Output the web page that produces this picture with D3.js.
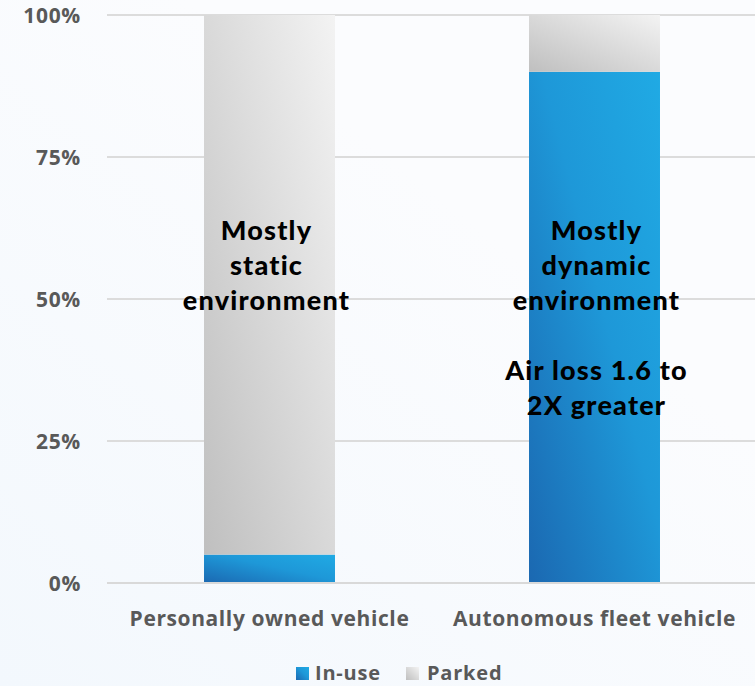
<!DOCTYPE html>
<html><head><meta charset="utf-8">
<script src="https://cdn.jsdelivr.net/npm/d3@7"></script>
<style>html,body{margin:0;padding:0;background:#fafbfe;}svg{display:block;}</style>
</head><body>
<script>
const categories = ["Personally owned vehicle", "Autonomous fleet vehicle"];
const inUse = [5, 90];
const parked = [95, 10];
const seriesNames = ["In-use", "Parked"];
const tickValues = [0, 25, 50, 75, 100];
const tickLabels = ["0%", "25%", "50%", "75%", "100%"];
const annotations = [
  ["Mostly", "static", "environment"],
  ["Mostly", "dynamic", "environment", "", "Air loss 1.6 to", "2X greater"]
];

const W = 755, H = 686;
const svg = d3.select("body").append("svg").attr("width", W).attr("height", H);
const defs = svg.append("defs");

const bg = defs.append("linearGradient").attr("id","bg").attr("x1","0").attr("y1","1").attr("x2","0.6").attr("y2","0.3");
bg.append("stop").attr("offset","0").attr("stop-color","#f3f8fd");
bg.append("stop").attr("offset","1").attr("stop-color","#fbfcfe");
svg.append("rect").attr("width",W).attr("height",H).attr("fill","url(#bg)");

const gBlue = defs.append("linearGradient").attr("id","gBlue").attr("x1","0").attr("y1","1").attr("x2","1").attr("y2","0");
gBlue.append("stop").attr("offset","0").attr("stop-color","#1b68b1");
gBlue.append("stop").attr("offset","0.55").attr("stop-color","#1e98d8");
gBlue.append("stop").attr("offset","1").attr("stop-color","#20aae4");
const gGray = defs.append("linearGradient").attr("id","gGray").attr("x1","0").attr("y1","1").attr("x2","1").attr("y2","0");
gGray.append("stop").attr("offset","0").attr("stop-color","#bfbfbf");
gGray.append("stop").attr("offset","1").attr("stop-color","#f3f3f3");

const margin = {left:107, right:-2, top:15, bottom:103};
const x = d3.scaleBand().domain(categories).range([margin.left, W - margin.right]).paddingInner(0.597).paddingOuter(0.2985);
const y = d3.scaleLinear().domain([0,100]).range([H - margin.bottom, margin.top]);

const labelFont = "'Open Sans', sans-serif";

// gridlines
svg.append("g").selectAll("line").data(tickValues).join("line")
  .attr("x1", margin.left).attr("x2", W)
  .attr("y1", d => y(d)).attr("y2", d => y(d))
  .attr("stroke", "#dcdcdc").attr("stroke-width", 2);

// y tick labels
svg.append("g").selectAll("text").data(tickValues).join("text")
  .attr("x", 81).attr("y", d => y(d)).attr("dy","0.36em")
  .attr("text-anchor","end")
  .attr("font-family", labelFont).attr("font-weight","bold")
  .attr("font-size", 21).attr("letter-spacing", 0.7).attr("fill","#595959")
  .text((d,i) => tickLabels[i]);

// stacked bars
const rows = categories.map((c,i) => ({cat:c, "In-use":inUse[i], "Parked":parked[i]}));
const stack = d3.stack().keys(seriesNames)(rows);
const fills = {"In-use":"url(#gBlue)", "Parked":"url(#gGray)"};
svg.append("g").selectAll("g").data(stack).join("g")
  .attr("fill", s => fills[s.key])
  .selectAll("rect").data(s => s).join("rect")
  .attr("x", d => x(d.data.cat)).attr("width", x.bandwidth())
  .attr("y", d => y(d[1])).attr("height", d => y(d[0]) - y(d[1]));

// baseline
svg.append("line").attr("x1", margin.left).attr("x2", W).attr("y1", y(0)).attr("y2", y(0))
  .attr("stroke","#d9d9d9").attr("stroke-width",2);

// category labels
svg.append("g").selectAll("text").data(categories).join("text")
  .attr("x", d => x(d) + x.bandwidth()/2).attr("y", 626)
  .attr("text-anchor","middle")
  .attr("font-family", labelFont).attr("font-weight","bold")
  .attr("font-size", 21).attr("letter-spacing", 0.6).attr("fill","#595959")
  .text(d => d);

// annotations
const ann = svg.append("g");
annotations.forEach((lines, i) => {
  const cx = x(categories[i]) + x.bandwidth()/2 - (i===0 ? 3 : -2);
  lines.forEach((t, j) => {
    if (!t) return;
    ann.append("text").attr("x", cx).attr("y", 240 + j*35)
      .attr("text-anchor","middle")
      .attr("font-family","Lato, sans-serif").attr("font-weight","900")
      .attr("font-size", 27).attr("letter-spacing", 1.2).attr("fill","#000")
      .text(t);
  });
});

// legend
const legend = svg.append("g");
const legItems = [{k:"In-use", x:296, tx:315}, {k:"Parked", x:406, tx:427}];
legItems.forEach(it => {
  legend.append("rect").attr("x", it.x).attr("y", 667).attr("width", 13).attr("height", 13).attr("fill", fills[it.k]);
  legend.append("text").attr("x", it.tx).attr("y", 680)
    .attr("font-family", labelFont).attr("font-weight","bold")
    .attr("font-size", 20).attr("letter-spacing", 0.8).attr("fill","#595959").text(it.k);
});
</script>
</body></html>
